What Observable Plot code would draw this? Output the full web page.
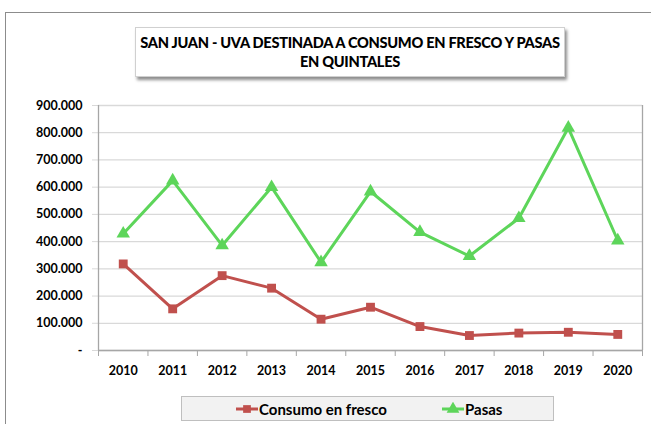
<!DOCTYPE html>
<html>
<head>
<meta charset="utf-8">
<script src="https://cdn.jsdelivr.net/npm/d3@7"></script>
<script src="https://cdn.jsdelivr.net/npm/@observablehq/plot@0.6"></script>
<style>
  html, body { margin: 0; padding: 0; background: #fff; }
  #wrap { position: relative; width: 651px; height: 424px; overflow: hidden; font-family: Lato, "Open Sans", sans-serif; }
  #outer { position: absolute; left: 5px; top: 12px; width: 700px; height: 500px; border: 1px solid #8c8c8c; box-sizing: border-box; }
  #chart { position: absolute; left: 0; top: 0; }
  #title { position: absolute; left: 135px; top: 27px; width: 430px; height: 50px; background: #fff; border: 1px solid #d0d0d0; box-shadow: 2px 3px 3px rgba(0,0,0,0.45); text-align: center; font-weight: 900; font-size: 14.6px; letter-spacing: -0.3px; white-space: nowrap; line-height: 19px; padding-top: 5px; box-sizing: border-box; color: #000; }
  #legend { position: absolute; left: 181px; top: 396px; width: 373px; height: 25px; background: #f2f2f2; border: 1px solid #bfbfbf; box-sizing: border-box; font-weight: 700; font-size: 15px; }
  .item { position: absolute; top: 2px; display: flex; align-items: center; height: 20px; }
  .item svg { margin-right: 1px; }
</style>
</head>
<body>
<div id="wrap">
  <div id="outer"></div>
  <div id="chart"></div>
  <div id="title">SAN JUAN - UVA DESTINADA A CONSUMO EN FRESCO Y PASAS<br>EN QUINTALES</div>
  <div id="legend"></div>
</div>
<script>
const years = [2010, 2011, 2012, 2013, 2014, 2015, 2016, 2017, 2018, 2019, 2020];
const consumoEnFresco = [318000, 153000, 275000, 229000, 115000, 159000, 88000, 55000, 64000, 67000, 59000];
const pasas = [429000, 624000, 386000, 600000, 324000, 584000, 435000, 347000, 486000, 818000, 404000];
const yTicks = [0, 100000, 200000, 300000, 400000, 500000, 600000, 700000, 800000, 900000];
const seriesNames = ["Consumo en fresco", "Pasas"];
const colors = ["#c0504d", "#5dd55a"];

const consumoData = years.map((y, i) => ({year: y, value: consumoEnFresco[i]}));
const pasasData = years.map((y, i) => ({year: y, value: pasas[i]}));
const bounds = [years[0] - 0.5, ...years.map(y => y + 0.5)];

const fmt = d => d === 0 ? "-" : d3.format(",")(d).replace(/,/g, ".");

const chart = Plot.plot({
  width: 651,
  height: 390,
  marginLeft: 98,
  marginRight: 9,
  marginTop: 105,
  marginBottom: 40,
  style: {fontFamily: "Lato, 'Open Sans', sans-serif", fontSize: "12.5px", fontWeight: "700", color: "#000", background: "transparent", overflow: "visible"},
  x: {domain: [bounds[0], bounds[bounds.length - 1]], axis: null},
  y: {domain: [0, 900000], axis: null},
  marks: [
    Plot.gridY(yTicks, {stroke: "#d9d9d9", strokeOpacity: 1, strokeWidth: 1.3}),
    Plot.axisY(yTicks, {tickSize: 6, stroke: "#d9d9d9", strokeOpacity: 1, tickPadding: 10, tickFormat: fmt, fill: "#000", fontWeight: 700, label: null}),
    Plot.ruleX([bounds[0], bounds[bounds.length - 1]], {stroke: "#a6a6a6", strokeWidth: 1.3}),
    Plot.ruleY([0], {stroke: "#a6a6a6", strokeWidth: 1.3}),
    Plot.axisX(bounds, {tickSize: 6, stroke: "#a6a6a6", tickFormat: () => "", label: null}),
    Plot.axisX(years, {tickSize: 0, tickPadding: 16, tickFormat: d => String(d), label: null, fill: "#000", fontWeight: 700}),
    Plot.line(consumoData, {x: "year", y: "value", stroke: colors[0], strokeWidth: 3}),
    Plot.dot(consumoData, {x: "year", y: "value", symbol: "square", r: 5, fill: colors[0], stroke: "none"}),
    Plot.line(pasasData, {x: "year", y: "value", stroke: colors[1], strokeWidth: 3}),
    Plot.dot(pasasData, {x: "year", y: "value", symbol: "triangle", r: 5, fill: colors[1], stroke: "none"})
  ]
});
document.getElementById("chart").appendChild(chart);

// Legend
const legend = document.getElementById("legend");
const legendX = [54, 260];
const symbols = ["square", "triangle"];
seriesNames.forEach((name, i) => {
  const item = document.createElement("div");
  item.className = "item";
  item.style.left = legendX[i] + "px";
  const sw = d3.create("svg").attr("width", 22).attr("height", 14);
  sw.append("line").attr("x1", 0).attr("x2", 22).attr("y1", 7).attr("y2", 7).attr("stroke", colors[i]).attr("stroke-width", 3);
  sw.append("path").attr("transform", "translate(11,7)")
    .attr("d", d3.symbol(symbols[i] === "square" ? d3.symbolSquare : d3.symbolTriangle, symbols[i] === "square" ? 60 : 70)())
    .attr("fill", colors[i]);
  item.appendChild(sw.node());
  const t = document.createElement("span");
  t.textContent = name;
  item.appendChild(t);
  legend.appendChild(item);
});
</script>
</body>
</html>
